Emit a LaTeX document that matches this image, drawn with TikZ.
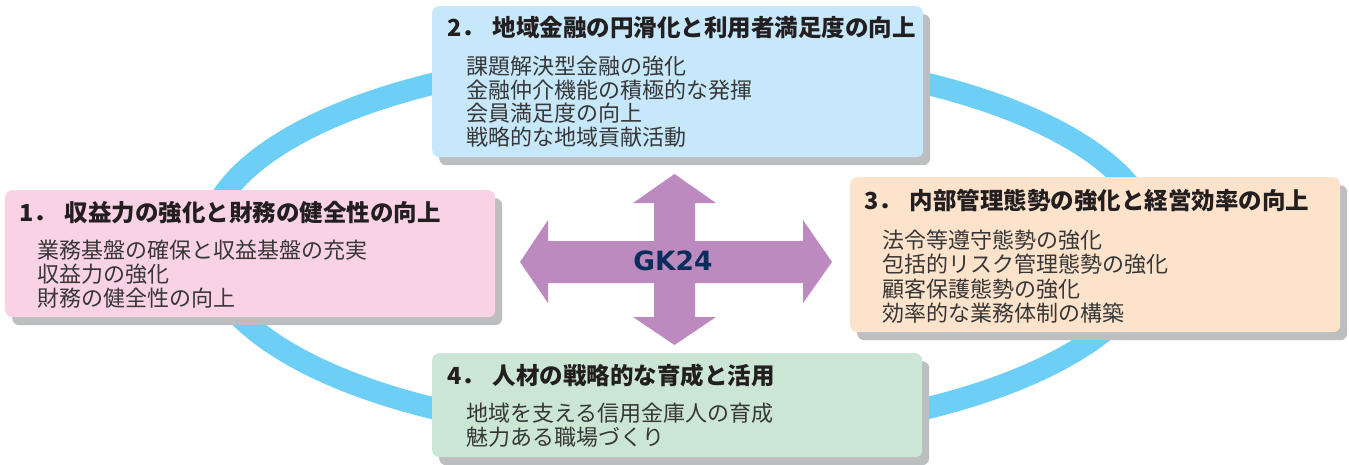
\documentclass[tikz,border=0pt]{standalone}
\usepackage{fontspec}
\setmainfont{Noto Sans CJK JP}
\newfontfamily\gkfont{DejaVu Sans}
\usetikzlibrary{shadows}
\definecolor{ringblue}{RGB}{109,207,246}
\definecolor{bluebox}{RGB}{199,232,250}
\definecolor{pinkbox}{RGB}{249,211,229}
\definecolor{orangebox}{RGB}{253,227,203}
\definecolor{greenbox}{RGB}{204,230,213}
\definecolor{shadowgray}{RGB}{188,190,192}
\definecolor{arrowpurple}{RGB}{188,138,190}
\definecolor{navy}{RGB}{12,45,92}
\definecolor{titletext}{RGB}{35,31,32}
\definecolor{bodytext}{RGB}{55,55,55}
\begin{document}
\begin{tikzpicture}[x=1pt,y=-1pt,
  panel/.style={rounded corners=7pt, inner sep=0pt, anchor=north west,
    drop shadow={shadow xshift=7pt, shadow yshift=-8pt, fill=shadowgray, opacity=1}},
  ttl/.style={anchor=base west, inner sep=0pt, text=titletext,
    font=\fontsize{23.5}{23.5}\selectfont\bfseries},
  bdy/.style={anchor=base west, inner sep=0pt, text=bodytext,
    font=\fontsize{22}{22}\selectfont},
  gktext/.style={inner sep=1.5pt, rounded corners=3pt, text=navy,
    font=\gkfont\bfseries\fontsize{26.5}{26.5}\selectfont},
]
\useasboundingbox (0,0) rectangle (1349,464);
\fill[white] (0,0) rectangle (1349,464);

% ring
\draw[ringblue, line width=22pt] (680,246) ellipse [x radius=474pt, y radius=190pt];

% boxes
\node[panel, fill=bluebox, minimum width=491pt, minimum height=151pt] (b2) at (432,6) {};
\node[panel, fill=pinkbox, minimum width=490pt, minimum height=127pt] (b1) at (5,190) {};
\node[panel, fill=orangebox, minimum width=490pt, minimum height=155pt] (b3) at (850,177) {};
\node[panel, fill=greenbox, minimum width=490pt, minimum height=104pt] (b4) at (432,353) {};

% box 2
\node[ttl] (t2) at (447,36) {2．\hspace{7.5pt}地域金融の円滑化と利用者満足度の向上};
\node[bdy] (b2a) at (466,74.5) {課題解決型金融の強化};
\node[bdy] (b2b) at (466,98.2) {金融仲介機能の積極的な発揮};
\node[bdy] (b2c) at (466,121.9) {会員満足度の向上};
\node[bdy] (b2d) at (466,145.6) {戦略的な地域貢献活動};

% box 1
\node[ttl] (t1) at (19,221) {1．\hspace{7.5pt}収益力の強化と財務の健全性の向上};
\node[bdy] (b1a) at (37,258.5) {業務基盤の確保と収益基盤の充実};
\node[bdy] (b1b) at (37,282.6) {収益力の強化};
\node[bdy] (b1c) at (37,306.6) {財務の健全性の向上};

% box 3
\node[ttl] (t3) at (864,209) {3．\hspace{7.5pt}内部管理態勢の強化と経営効率の向上};
\node[bdy] (b3a) at (882,248.5) {法令等遵守態勢の強化};
\node[bdy] (b3b) at (882,272.8) {包括的リスク管理態勢の強化};
\node[bdy] (b3c) at (882,297.1) {顧客保護態勢の強化};
\node[bdy] (b3d) at (882,321.4) {効率的な業務体制の構築};

% box 4
\node[ttl] (t4) at (447,384) {4．\hspace{7.5pt}人材の戦略的な育成と活用};
\node[bdy] (b4a) at (466,421.5) {地域を支える信用金庫人の育成};
\node[bdy] (b4b) at (466,445.5) {魅力ある職場づくり};

% cross arrow
\fill[arrowpurple] (520,262) -- (548,220) -- (548,241) -- (654,241) -- (654,203)
  -- (633,203) -- (674.5,174) -- (716,203) -- (695,203) -- (695,241) -- (803,241)
  -- (803,220) -- (832,262) -- (803,303) -- (803,283) -- (695,283) -- (695,317)
  -- (716,317) -- (674.5,345) -- (633,317) -- (654,317) -- (654,283) -- (548,283)
  -- (548,303) -- cycle;

% centre label
\node[gktext] (gk) at (673,261) {GK24};
\end{tikzpicture}
\end{document}
